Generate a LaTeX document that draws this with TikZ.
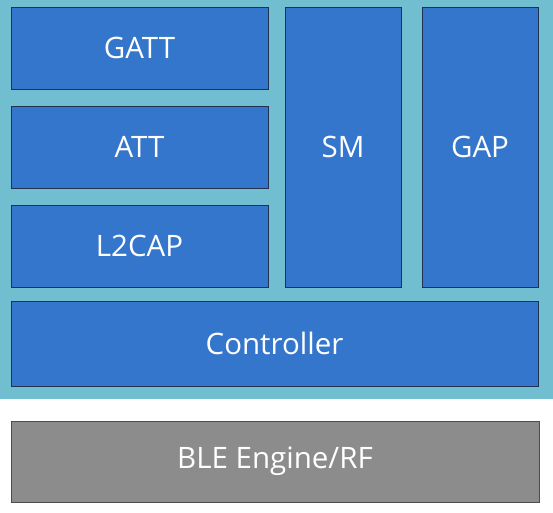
\documentclass[tikz,border=0pt]{standalone}
\usepackage{fontspec}
\setmainfont{Open Sans}
\usetikzlibrary{positioning}
\definecolor{stackbg}{HTML}{71BED0}
\definecolor{layerblue}{HTML}{3476CC}
\definecolor{layeredge}{HTML}{1F3050}
\definecolor{rfgray}{HTML}{8C8C8C}
\tikzset{
  layer/.style={draw=layeredge,fill=layerblue,text=white,line width=0.8pt,
    inner sep=0pt,font=\fontsize{29.5}{29.5}\selectfont},
  rflayer/.style={layer,fill=rfgray,draw=black!70}
}
\begin{document}
\begin{tikzpicture}[x=1pt,y=-1pt]
                    \useasboundingbox (0,0) rectangle (553,512);
                    % host stack background
                    \fill[stackbg] (0,0) rectangle (553,399);
                    \foreach \n \t \y in {gatt/GATT/48,att/ATT/147,l2cap/L2CAP/246}
                    \node[layer,minimum width=257pt,minimum height=82pt] (\n) at (139.5,\y) {\t};
                    \foreach \n \t \x in {sm/SM/343,gap/GAP/480}
                    \node[layer,minimum width=116pt,minimum height=280pt] (\n) at (\x,147) {\t};
                    \node[layer,minimum width=527pt,minimum height=85pt] (ctrl) at (274.5,343.5) {Controller};
                    \node[rflayer,minimum width=528pt,minimum height=81pt] (rf) at (275,461.5) {BLE Engine/RF};
                \end{tikzpicture}
\end{document}
